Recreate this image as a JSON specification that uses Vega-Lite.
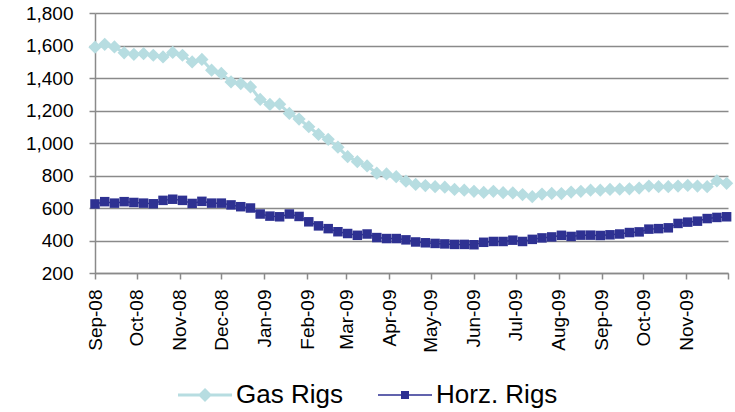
{
  "$schema": "https://vega.github.io/schema/vega-lite/v6.json",
  "autosize": {"type": "none"},
  "width": 633,
  "height": 260,
  "padding": {"left": 95, "top": 13, "right": 7, "bottom": 139},
  "background": "white",
  "config": {
    "view": {"stroke": null},
    "font": "Liberation Sans",
    "axis": {"labelFont": "Liberation Sans", "labelColor": "#000000", "labelFontSize": 19}
  },
  "data": {
    "values": [
      {"date": "2008-09-05", "gas": 1590, "horz": 625},
      {"date": "2008-09-12", "gas": 1607, "horz": 639},
      {"date": "2008-09-19", "gas": 1591, "horz": 630},
      {"date": "2008-09-26", "gas": 1555, "horz": 639},
      {"date": "2008-10-03", "gas": 1546, "horz": 634},
      {"date": "2008-10-10", "gas": 1550, "horz": 630},
      {"date": "2008-10-17", "gas": 1540, "horz": 626},
      {"date": "2008-10-24", "gas": 1530, "horz": 647},
      {"date": "2008-10-31", "gas": 1557, "horz": 654},
      {"date": "2008-11-07", "gas": 1540, "horz": 647},
      {"date": "2008-11-14", "gas": 1499, "horz": 628},
      {"date": "2008-11-21", "gas": 1514, "horz": 641},
      {"date": "2008-11-28", "gas": 1448, "horz": 630},
      {"date": "2008-12-05", "gas": 1428, "horz": 630},
      {"date": "2008-12-12", "gas": 1376, "horz": 619},
      {"date": "2008-12-19", "gas": 1366, "horz": 608},
      {"date": "2008-12-26", "gas": 1345, "horz": 600},
      {"date": "2009-01-02", "gas": 1268, "horz": 563},
      {"date": "2009-01-09", "gas": 1237, "horz": 550},
      {"date": "2009-01-16", "gas": 1239, "horz": 546},
      {"date": "2009-01-23", "gas": 1182, "horz": 563},
      {"date": "2009-01-30", "gas": 1147, "horz": 548},
      {"date": "2009-02-06", "gas": 1100, "horz": 515},
      {"date": "2009-02-13", "gas": 1053, "horz": 490},
      {"date": "2009-02-20", "gas": 1023, "horz": 473},
      {"date": "2009-02-27", "gas": 974, "horz": 454},
      {"date": "2009-03-06", "gas": 916, "horz": 443},
      {"date": "2009-03-13", "gas": 885, "horz": 432},
      {"date": "2009-03-20", "gas": 859, "horz": 440},
      {"date": "2009-03-27", "gas": 814, "horz": 418},
      {"date": "2009-04-03", "gas": 810, "horz": 412},
      {"date": "2009-04-10", "gas": 793, "horz": 412},
      {"date": "2009-04-17", "gas": 765, "horz": 404},
      {"date": "2009-04-24", "gas": 745, "horz": 391},
      {"date": "2009-05-01", "gas": 738, "horz": 386},
      {"date": "2009-05-08", "gas": 731, "horz": 382},
      {"date": "2009-05-15", "gas": 728, "horz": 379},
      {"date": "2009-05-22", "gas": 714, "horz": 376},
      {"date": "2009-05-29", "gas": 710, "horz": 376},
      {"date": "2009-06-05", "gas": 703, "horz": 374},
      {"date": "2009-06-12", "gas": 696, "horz": 389},
      {"date": "2009-06-19", "gas": 703, "horz": 394},
      {"date": "2009-06-26", "gas": 694, "horz": 394},
      {"date": "2009-07-03", "gas": 693, "horz": 402},
      {"date": "2009-07-10", "gas": 683, "horz": 394},
      {"date": "2009-07-17", "gas": 670, "horz": 407},
      {"date": "2009-07-24", "gas": 686, "horz": 416},
      {"date": "2009-07-31", "gas": 690, "horz": 422},
      {"date": "2009-08-07", "gas": 689, "horz": 432},
      {"date": "2009-08-14", "gas": 698, "horz": 425},
      {"date": "2009-08-21", "gas": 703, "horz": 433},
      {"date": "2009-08-28", "gas": 710, "horz": 433},
      {"date": "2009-09-04", "gas": 710, "horz": 431},
      {"date": "2009-09-11", "gas": 714, "horz": 435},
      {"date": "2009-09-18", "gas": 716, "horz": 440},
      {"date": "2009-09-25", "gas": 718, "horz": 449},
      {"date": "2009-10-02", "gas": 723, "horz": 453},
      {"date": "2009-10-09", "gas": 735, "horz": 470},
      {"date": "2009-10-16", "gas": 731, "horz": 473},
      {"date": "2009-10-23", "gas": 731, "horz": 478},
      {"date": "2009-10-30", "gas": 735, "horz": 505},
      {"date": "2009-11-06", "gas": 739, "horz": 513},
      {"date": "2009-11-13", "gas": 735, "horz": 519},
      {"date": "2009-11-20", "gas": 731, "horz": 535},
      {"date": "2009-11-27", "gas": 767, "horz": 542},
      {"date": "2009-12-04", "gas": 752, "horz": 546}
    ]
  },
  "transform": [{"fold": ["gas", "horz"], "as": ["series", "rigs"]}],
  "encoding": {
    "x": {
      "field": "date",
      "type": "temporal",
      "scale": {
        "type": "utc",
        "domain": [
          {"year": 2008, "month": 9, "date": 5, "utc": true},
          {"year": 2009, "month": 12, "date": 5, "utc": true}
        ]
      },
      "axis": {
        "title": null,
        "values": [
          {"year": 2008, "month": 9, "date": 5, "utc": true},
          {"year": 2008, "month": 10, "date": 5, "utc": true},
          {"year": 2008, "month": 11, "date": 5, "utc": true},
          {"year": 2008, "month": 12, "date": 5, "utc": true},
          {"year": 2009, "month": 1, "date": 5, "utc": true},
          {"year": 2009, "month": 2, "date": 5, "utc": true},
          {"year": 2009, "month": 3, "date": 5, "utc": true},
          {"year": 2009, "month": 4, "date": 5, "utc": true},
          {"year": 2009, "month": 5, "date": 5, "utc": true},
          {"year": 2009, "month": 6, "date": 5, "utc": true},
          {"year": 2009, "month": 7, "date": 5, "utc": true},
          {"year": 2009, "month": 8, "date": 5, "utc": true},
          {"year": 2009, "month": 9, "date": 5, "utc": true},
          {"year": 2009, "month": 10, "date": 5, "utc": true},
          {"year": 2009, "month": 11, "date": 5, "utc": true},
          {"year": 2009, "month": 12, "date": 5, "utc": true}
        ],
        "labelExpr": "utcFormat(datum.value, '%b-%y') == 'Dec-09' ? '' : utcFormat(datum.value, '%b-%y')",
        "labelAngle": -90,
        "labelPadding": 10,
        "labelOverlap": false,
        "labelFlush": false,
        "tickSize": 6,
        "tickColor": "#8a8a8a",
        "tickWidth": 1.5,
        "domainColor": "#8a8a8a",
        "domainWidth": 1.5,
        "grid": false
      }
    },
    "y": {
      "field": "rigs",
      "type": "quantitative",
      "scale": {"domain": [200, 1800], "nice": false, "zero": false},
      "axis": {
        "title": null,
        "values": [200, 400, 600, 800, 1000, 1200, 1400, 1600, 1800],
        "format": ",d",
        "labelPadding": 16,
        "tickSize": 6,
        "tickColor": "#8a8a8a",
        "tickWidth": 1.5,
        "domainColor": "#8a8a8a",
        "domainWidth": 1.5,
        "grid": true,
        "gridColor": "#8a8a8a",
        "gridWidth": 1.5
      }
    },
    "color": {
      "field": "series",
      "type": "nominal",
      "scale": {"domain": ["gas", "horz"], "range": ["#B7DDE1", "#2E3192"]},
      "legend": {
        "orient": "none",
        "legendX": 97,
        "legendY": 369,
        "direction": "horizontal",
        "title": null,
        "labelFontSize": 26,
        "labelFont": "Liberation Sans",
        "labelColor": "#000000",
        "labelOffset": 18,
        "columnPadding": 32,
        "symbolSize": 2916,
        "labelExpr": "datum.value == 'gas' ? 'Gas Rigs' : 'Horz. Rigs'",
        "encode": {
          "symbols": {
            "update": {
              "shape": {"signal": "datum.value == 'gas' ? 'M-1,0H1M0,-0.18L0.18,0L0,0.18L-0.18,0Z' : 'M-1,0H1M-0.12,-0.12H0.12V0.12H-0.12Z'"},
              "size": {"value": 2916},
              "strokeWidth": {"signal": "datum.value == 'gas' ? 3 : 1.5"},
              "fill": {"scale": "color", "field": "value"},
              "stroke": {"scale": "color", "field": "value"},
              "opacity": {"value": 1},
              "fillOpacity": {"value": 1},
              "strokeOpacity": {"value": 1}
            }
          }
        }
      }
    }
  },
  "layer": [
    {
      "transform": [{"filter": "datum.series == 'gas'"}],
      "mark": {"type": "line", "clip": false, "strokeWidth": 3}
    },
    {
      "transform": [{"filter": "datum.series == 'gas'"}],
      "mark": {"type": "point", "filled": true, "opacity": 1, "clip": false, "shape": "diamond", "size": 175}
    },
    {
      "transform": [{"filter": "datum.series == 'horz'"}],
      "mark": {"type": "line", "clip": false, "strokeWidth": 1.5}
    },
    {
      "transform": [{"filter": "datum.series == 'horz'"}],
      "mark": {"type": "point", "filled": true, "opacity": 1, "clip": false, "shape": "square", "size": 90}
    }
  ]
}
